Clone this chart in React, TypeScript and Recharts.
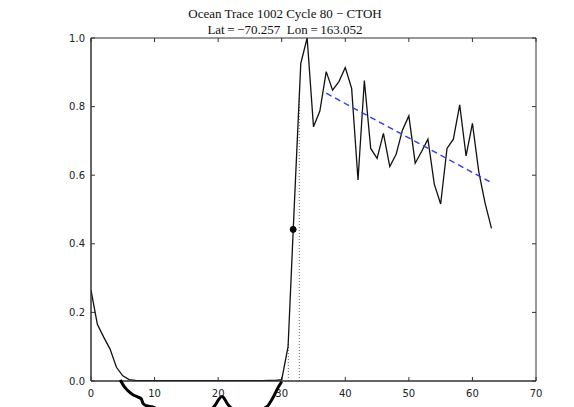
import React from "react";
import {
  ComposedChart,
  LineChart,
  Line,
  XAxis,
  YAxis,
  ReferenceLine,
  ReferenceDot,
  ReferenceArea,
} from "recharts";

// ---- data ----
const gates = [
  0, 1, 2, 3, 4, 5, 6, 7, 8, 9, 10, 11, 12, 13, 14, 15, 16, 17, 18, 19, 20, 21,
  22, 23, 24, 25, 26, 27, 28, 29, 30, 31, 32, 33, 34, 35, 36, 37, 38, 39, 40, 41,
  42, 43, 44, 45, 46, 47, 48, 49, 50, 51, 52, 53, 54, 55, 56, 57, 58, 59, 60, 61,
  62, 63,
];
const power = [
  0.265, 0.165, 0.128, 0.093, 0.04, 0.015, 0.004, 0.002, 0.001, 0.001, 0.001,
  0.001, 0.001, 0.001, 0.001, 0.001, 0.001, 0.001, 0.001, 0.001, 0.001, 0.001,
  0.001, 0.001, 0.001, 0.001, 0.001, 0.001, 0.002, 0.002, 0.004, 0.1, 0.52,
  0.926, 1.0, 0.741, 0.787, 0.902, 0.848, 0.873, 0.914, 0.853, 0.586, 0.876,
  0.678, 0.649, 0.722, 0.625, 0.661, 0.732, 0.773, 0.635, 0.669, 0.705, 0.574,
  0.516, 0.678, 0.705, 0.805, 0.656, 0.751, 0.61, 0.518, 0.445,
];
const fitX = [37, 62.7];
const fitY = [0.839, 0.581];
const lowX = [
  4.6, 5.3, 5.8, 6.6, 7.4, 7.9, 8.2, 8.7, 9.8, 11, 13, 16, 18, 19.3, 20.6, 21.6,
  23, 25, 27.6, 28.7, 29.4, 30.0,
];
const lowY = [
  0.003, -0.018, -0.028, -0.04, -0.047, -0.052, -0.066, -0.072, -0.076, -0.09,
  -0.1, -0.1, -0.092, -0.076, -0.045, -0.07, -0.088, -0.092, -0.076, -0.046,
  -0.02, -0.002,
];
const gateLineX = [31.04, 32.77];
const gateLineTop = [0.11, 0.83];
const retrackX = 31.8;
const retrackY = 0.442;
const xTicks = [0, 10, 20, 30, 40, 50, 60, 70];
const yTicks = [0, 0.2, 0.4, 0.6, 0.8, 1.0];
const titleLine1 = "Ocean Trace 1002 Cycle 80 \u2212 CTOH";
const titleLine2 =
  "Lat\u2009=\u2009\u221270.257\u00a0\u00a0Lon\u2009=\u2009163.052";

const mainData = gates.map((g, i) => ({ x: g, v: power[i] }));
const fitData = fitX.map((x, i) => ({ x, v: fitY[i] }));
const lowData = lowX.map((x, i) => ({ x, v: lowY[i] }));

const W = 574;
const H = 407;
const tickFont = { fontFamily: "DejaVu Sans", fontSize: 10, fill: "#222" };
const frame = "#333";
const tx = 0.63; // inward tick length in x units
const ty = 0.0117; // inward tick length in y units

export default function App() {
  return (
    <div
      style={{
        position: "fixed",
        left: 0,
        top: 0,
        width: W,
        height: H,
        overflow: "hidden",
        background: "#fff",
      }}
    >
      <div style={{ position: "absolute", left: 0, top: 0 }}>
        <ComposedChart
          width={W}
          height={H}
          margin={{ top: 38, right: 38, bottom: 0, left: 0 }}
        >
          <XAxis
            type="number"
            dataKey="x"
            domain={[0, 70]}
            ticks={xTicks}
            height={26}
            tickLine={false}
            tickSize={0}
            tickMargin={9}
            axisLine={{ stroke: frame }}
            tick={tickFont}
            allowDataOverflow
          />
          <YAxis
            type="number"
            domain={[0, 1]}
            ticks={yTicks}
            width={91}
            tickLine={false}
            tickSize={0}
            tickMargin={6}
            axisLine={{ stroke: frame }}
            tick={tickFont}
            tickFormatter={(v: number) => v.toFixed(1)}
            allowDataOverflow
          />
          <ReferenceArea
            x1={0}
            x2={70}
            y1={0}
            y2={1}
            fill="none"
            stroke={frame}
            strokeWidth={1}
          />
          {xTicks.map((t) => (
            <ReferenceLine
              key={"xb" + t}
              segment={[
                { x: t, y: 0 },
                { x: t, y: ty },
              ]}
              stroke={frame}
            />
          ))}
          {xTicks.map((t) => (
            <ReferenceLine
              key={"xt" + t}
              segment={[
                { x: t, y: 1 },
                { x: t, y: 1 - ty },
              ]}
              stroke={frame}
            />
          ))}
          {yTicks.map((t) => (
            <ReferenceLine
              key={"yl" + t}
              segment={[
                { x: 0, y: t },
                { x: tx, y: t },
              ]}
              stroke={frame}
            />
          ))}
          {yTicks.map((t) => (
            <ReferenceLine
              key={"yr" + t}
              segment={[
                { x: 70, y: t },
                { x: 70 - tx, y: t },
              ]}
              stroke={frame}
            />
          ))}
          {gateLineX.map((gx, i) => (
            <ReferenceLine
              key={"g" + i}
              segment={[
                { x: gx, y: 0 },
                { x: gx, y: gateLineTop[i] },
              ]}
              stroke="#666"
              strokeDasharray="1 2"
              strokeWidth={1}
            />
          ))}
          <Line
            data={mainData}
            dataKey="v"
            type="linear"
            stroke="#111"
            strokeWidth={1.3}
            dot={false}
            isAnimationActive={false}
          />
          <Line
            data={fitData}
            dataKey="v"
            type="linear"
            stroke="#2b3cf0"
            strokeWidth={1.4}
            strokeDasharray="6 4"
            dot={false}
            isAnimationActive={false}
          />
          <ReferenceDot
            x={retrackX}
            y={retrackY}
            r={3}
            fill="#000"
            stroke="#000"
          />
        </ComposedChart>
      </div>
      <div
        style={{ position: "absolute", left: 0, top: 0, pointerEvents: "none" }}
      >
        <LineChart
          width={W}
          height={450}
          margin={{ top: 38, right: 38, bottom: 0.4, left: 91 }}
        >
          <XAxis type="number" dataKey="x" domain={[0, 70]} hide />
          <YAxis type="number" domain={[-0.2, 1]} hide />
          <Line
            data={lowData}
            dataKey="v"
            type="monotone"
            stroke="#000"
            strokeWidth={3}
            dot={false}
            isAnimationActive={false}
          />
        </LineChart>
      </div>
      <svg
        width={W}
        height={50}
        style={{ position: "absolute", left: 0, top: 0 }}
      >
        <text
          x={285}
          y={17.5}
          textAnchor="middle"
          fontFamily="Liberation Serif"
          fontSize={13}
          fill="#111"
        >
          {titleLine1}
        </text>
        <text
          x={285}
          y={34}
          textAnchor="middle"
          fontFamily="Liberation Serif"
          fontSize={13}
          fill="#111"
        >
          {titleLine2}
        </text>
      </svg>
    </div>
  );
}
